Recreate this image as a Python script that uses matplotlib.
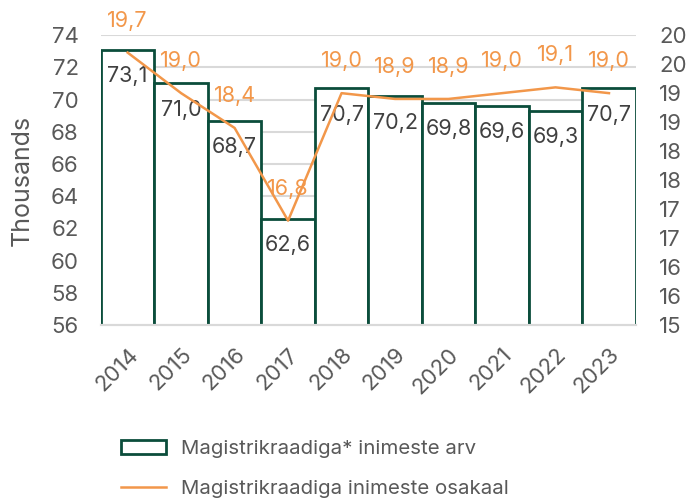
import matplotlib
matplotlib.use("Agg")
import matplotlib.pyplot as plt
import matplotlib.transforms as mtransforms
from matplotlib.patches import Patch
from matplotlib.lines import Line2D

# data
years = ["2014", "2015", "2016", "2017", "2018", "2019", "2020", "2021", "2022", "2023"]
people_thousands = [73.1, 71.0, 68.7, 62.6, 70.7, 70.2, 69.8, 69.6, 69.3, 70.7]
share_pct = [19.7, 19.0, 18.4, 16.8, 19.0, 18.9, 18.9, 19.0, 19.1, 19.0]
right_ticks = [15, 15.5, 16, 16.5, 17, 17.5, 18, 18.5, 19, 19.5, 20]
right_tick_labels = ["15", "16", "16", "17", "17", "18", "18", "19", "19", "20", "20"]

GREEN = "#0b4d3b"
ORANGE = "#f2974a"
GREY_TXT = "#595959"
GRID = "#d9d9d9"

plt.rcParams["font.family"] = ["Inter", "DejaVu Sans"]
plt.rcParams["font.size"] = 15

fig = plt.figure(figsize=(6.91, 5.03), dpi=100)
ax = fig.add_axes([0.146, 0.354, 0.774, 0.576])
ax2 = ax.twinx()

x = list(range(len(years)))
ax.bar(x, people_thousands, width=1.0, color="white", edgecolor=GREEN, linewidth=2, zorder=2)
ax.set_ylim(56, 74)
ax.set_yticks(range(56, 75, 2))
ax.set_xlim(-0.5, len(years) - 0.5)
ax.grid(axis="y", color=GRID, linewidth=1.5, zorder=0)
ax.set_axisbelow(True)
for v_x, v in zip(x, people_thousands):
    ax.annotate(f"{v:.1f}".replace(".", ","), (v_x, v), xytext=(0, -19), textcoords="offset points",
                ha="center", va="center", color="#404040", fontsize=15.5, zorder=4)

ax2.plot(x, share_pct, color=ORANGE, linewidth=1.8, zorder=3)
ax2.set_ylim(15, 20)
ax2.set_yticks(right_ticks)
ax2.set_yticklabels(right_tick_labels)
for v_x, v in zip(x, share_pct):
    ax2.annotate(f"{v:.1f}".replace(".", ","), (v_x, v), xytext=(0, 23), textcoords="offset points",
                 ha="center", va="center", color=ORANGE, fontsize=15.5)

ax.set_xticks(x)
ax.set_xticklabels(years, rotation=45, ha="right", rotation_mode="anchor", fontsize=16)
shift = mtransforms.ScaledTranslation(0.05, 0, fig.dpi_scale_trans)
for lbl in ax.get_xticklabels():
    lbl.set_transform(lbl.get_transform() + shift)
ax.set_ylabel("Thousands", color=GREY_TXT, fontsize=18, labelpad=12)

for a in (ax, ax2):
    for side in ("top", "left", "right"):
        a.spines[side].set_visible(False)
    a.spines["bottom"].set_color(GRID)
    a.spines["bottom"].set_linewidth(1.5)
    a.tick_params(length=0, colors=GREY_TXT, labelsize=16)
ax.tick_params(axis="x", pad=14)
ax.tick_params(axis="y", pad=16)
ax2.tick_params(axis="y", pad=17)

handles = [Patch(facecolor="white", edgecolor=GREEN, linewidth=2),
           Line2D([0], [0], color=ORANGE, linewidth=1.8)]
labels = ["Magistrikraadiga* inimeste arv", "Magistrikraadiga inimeste osakaal"]
leg = fig.legend(handles, labels, loc="upper left", bbox_to_anchor=(0.175, 0.125), frameon=False,
                 borderpad=0, borderaxespad=0, labelspacing=1.05, handlelength=2.2,
                 handletextpad=0.74, fontsize=14.7)
for t in leg.get_texts():
    t.set_color(GREY_TXT)

fig.savefig("out.png", dpi=100)
